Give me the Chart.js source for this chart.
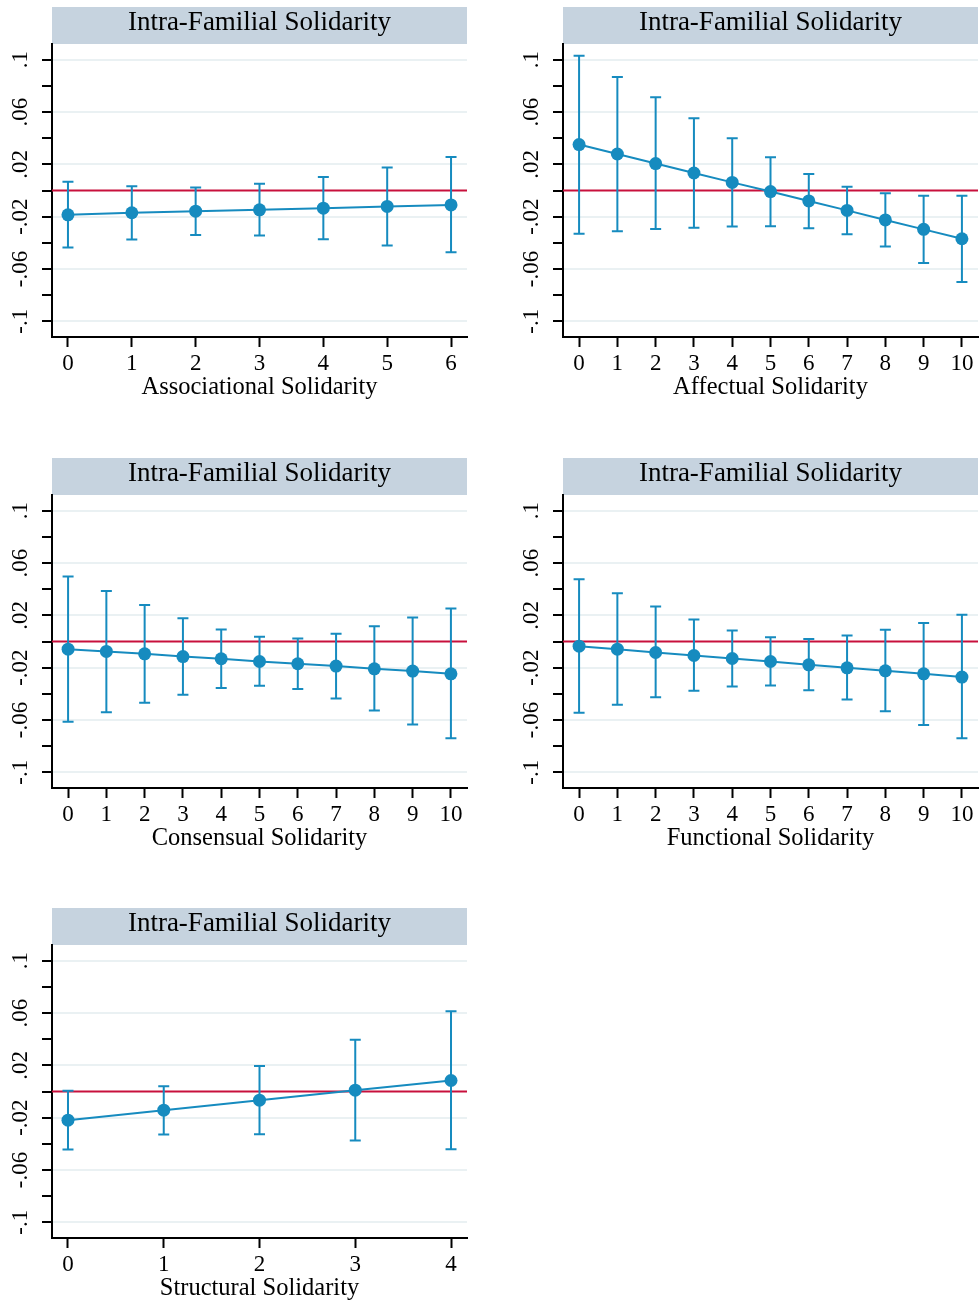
<!DOCTYPE html>
<html>
<head>
<meta charset="utf-8">
<script src="https://cdn.jsdelivr.net/npm/chart.js@4.4.1/dist/chart.umd.min.js"></script>
<style>
  html, body { margin: 0; padding: 0; background: #fff; }
  body { position: relative; width: 979px; height: 1306px; overflow: hidden; }
  canvas { position: absolute; }
</style>
</head>
<body>
<canvas id="assoc" width="468" height="410" style="left:0;top:0"></canvas>
<canvas id="affect" width="468" height="410" style="left:511px;top:0"></canvas>
<canvas id="consens" width="468" height="410" style="left:0;top:451px"></canvas>
<canvas id="funct" width="468" height="410" style="left:511px;top:451px"></canvas>
<canvas id="struct" width="468" height="410" style="left:0;top:901px"></canvas>
<script>
// y axis ticks (labels only on every other tick, like the Stata graph)
const yTickValues = [-0.1, -0.08, -0.06, -0.04, -0.02, 0, 0.02, 0.04, 0.06, 0.08, 0.1];
const yTickLabels = ["-.1", "", "-.06", "", "-.02", "", ".02", "", ".06", "", ".1"];

const assocLevels = [0, 1, 2, 3, 4, 5, 6];
const assocEst = [-0.0186, -0.0170, -0.0158, -0.0148, -0.0135, -0.0122, -0.0110];
const assocLo = [-0.0435, -0.0374, -0.0341, -0.0344, -0.0372, -0.0420, -0.0473];
const assocHi = [0.0066, 0.0033, 0.0023, 0.0051, 0.0104, 0.0176, 0.0257];

const affectLevels = [0, 1, 2, 3, 4, 5, 6, 7, 8, 9, 10];
const affectEst = [0.0351, 0.0279, 0.0206, 0.0134, 0.0062, -0.0008, -0.0080, -0.0152, -0.0225, -0.0297, -0.0369];
const affectLo = [-0.0330, -0.0312, -0.0294, -0.0284, -0.0276, -0.0274, -0.0289, -0.0335, -0.0428, -0.0555, -0.0700];
const affectHi = [0.1030, 0.0867, 0.0712, 0.0552, 0.0400, 0.0255, 0.0126, 0.0028, -0.0021, -0.0041, -0.0041];

const consensLevels = [0, 1, 2, 3, 4, 5, 6, 7, 8, 9, 10];
const consensEst = [-0.0059, -0.0076, -0.0094, -0.0115, -0.0132, -0.0153, -0.0170, -0.0188, -0.0209, -0.0226, -0.0247];
const consensLo = [-0.0613, -0.0540, -0.0468, -0.0407, -0.0356, -0.0338, -0.0364, -0.0435, -0.0527, -0.0634, -0.0740];
const consensHi = [0.0496, 0.0387, 0.0280, 0.0178, 0.0092, 0.0036, 0.0023, 0.0059, 0.0117, 0.0183, 0.0252];

const functLevels = [0, 1, 2, 3, 4, 5, 6, 7, 8, 9, 10];
const functEst = [-0.0036, -0.0059, -0.0084, -0.0107, -0.0130, -0.0153, -0.0178, -0.0201, -0.0224, -0.0247, -0.0272];
const functLo = [-0.0545, -0.0483, -0.0427, -0.0377, -0.0344, -0.0336, -0.0372, -0.0443, -0.0534, -0.0639, -0.0740];
const functHi = [0.0476, 0.0369, 0.0267, 0.0168, 0.0084, 0.0033, 0.0020, 0.0046, 0.0089, 0.0142, 0.0204];

const structLevels = [0, 1, 2, 3, 4];
const structEst = [-0.0219, -0.0143, -0.0066, 0.0010, 0.0084];
const structLo = [-0.0443, -0.0329, -0.0326, -0.0375, -0.0441];
const structHi = [0.0005, 0.0041, 0.0194, 0.0395, 0.0614];

const blue = "#168bbf";
const red = "#c8103c";
const band = "#c6d3df";
const gridColor = "#eaf1f3";
const serif = "'Liberation Serif', 'Times New Roman', serif";

// band behind the title, zero line, and CI bars
function decor(levels, lo, hi) {
  return {
    id: "decor",
    beforeDraw(chart) {
      const { ctx, chartArea } = chart;
      const tb = chart.titleBlock;
      ctx.save();
      ctx.fillStyle = band;
      ctx.fillRect(chartArea.left, tb.top, chartArea.right - chartArea.left, chartArea.top - tb.top);
      ctx.restore();
    },
    beforeDatasetsDraw(chart) {
      const { ctx, chartArea } = chart;
      const xs = chart.scales.x;
      const ys = chart.scales.y;
      ctx.save();
      ctx.strokeStyle = red;
      ctx.lineWidth = 2;
      const y0 = ys.getPixelForValue(0);
      ctx.beginPath();
      ctx.moveTo(chartArea.left, y0);
      ctx.lineTo(chartArea.right, y0);
      ctx.stroke();

      ctx.strokeStyle = blue;
      ctx.lineWidth = 2;
      levels.forEach((lv, i) => {
        const px = xs.getPixelForValue(lv);
        const yl = ys.getPixelForValue(lo[i]);
        const yh = ys.getPixelForValue(hi[i]);
        ctx.beginPath();
        ctx.moveTo(px, yl);
        ctx.lineTo(px, yh);
        ctx.moveTo(px - 5.5, yl);
        ctx.lineTo(px + 5.5, yl);
        ctx.moveTo(px - 5.5, yh);
        ctx.lineTo(px + 5.5, yh);
        ctx.stroke();
      });
      ctx.restore();
    },
  };
}

function drawPanel(id, xTitle, levels, est, lo, hi, xMin, xMax) {
  const ctx = document.getElementById(id).getContext("2d");
  return new Chart(ctx, {
    type: "line",
    data: {
      datasets: [
        {
          data: levels.map((x, i) => ({ x: x, y: est[i] })),
          borderColor: blue,
          backgroundColor: blue,
          borderWidth: 2,
          pointRadius: 6.5,
          pointBorderWidth: 0,
          pointBackgroundColor: blue,
          tension: 0,
        },
      ],
    },
    options: {
      responsive: false,
      animation: false,
      layout: { autoPadding: false, padding: { top: 7, right: 1, left: 0, bottom: 0 } },
      plugins: {
        legend: { display: false },
        tooltip: { enabled: false },
        title: {
          display: true,
          text: "Intra-Familial Solidarity",
          fullSize: false,
          color: "#000",
          font: { family: serif, size: 27, weight: "normal", lineHeight: 1 },
          padding: { top: 2, bottom: 8 },
        },
      },
      scales: {
        x: {
          type: "linear",
          min: xMin,
          max: xMax,
          afterBuildTicks: (s) => {
            s.ticks = levels.map((v) => ({ value: v }));
          },
          afterFit: (s) => {
            s.height = 73;
            s.paddingLeft = 0;
            s.paddingRight = 0;
          },
          ticks: {
            color: "#000",
            font: { family: serif, size: 23 },
            padding: 3,
            maxRotation: 0,
            autoSkip: false,
            callback: (v) => String(v),
          },
          grid: { drawOnChartArea: false, tickLength: 10, tickColor: "#000", tickWidth: 2 },
          border: { color: "#000", width: 2 },
          title: {
            display: true,
            text: xTitle,
            color: "#000",
            font: { family: serif, size: 24.5 },
            padding: { top: 0, bottom: 8 },
          },
        },
        y: {
          min: -0.112,
          max: 0.112,
          afterBuildTicks: (s) => {
            s.ticks = yTickValues.map((v) => ({ value: v }));
          },
          afterFit: (s) => {
            s.width = 52;
            s.paddingTop = 0;
            s.paddingBottom = 0;
          },
          ticks: {
            color: "#000",
            font: { family: serif, size: 23 },
            padding: 3,
            minRotation: 90,
            maxRotation: 90,
            crossAlign: "center",
            autoSkip: false,
            callback: (v, i) => yTickLabels[i],
          },
          grid: {
            color: (c) => (c.index % 2 === 0 ? gridColor : "rgba(0,0,0,0)"),
            lineWidth: 2,
            tickLength: 10,
            tickColor: "#000",
            tickWidth: 2,
          },
          border: { color: "#000", width: 2 },
        },
      },
    },
    plugins: [decor(levels, lo, hi)],
  });
}

drawPanel("assoc", "Associational Solidarity", assocLevels, assocEst, assocLo, assocHi, -0.25, 6.25);
drawPanel("affect", "Affectual Solidarity", affectLevels, affectEst, affectLo, affectHi, -0.42, 10.42);
drawPanel("consens", "Consensual Solidarity", consensLevels, consensEst, consensLo, consensHi, -0.42, 10.42);
drawPanel("funct", "Functional Solidarity", functLevels, functEst, functLo, functHi, -0.42, 10.42);
drawPanel("struct", "Structural Solidarity", structLevels, structEst, structLo, structHi, -0.167, 4.167);
</script>
</body>
</html>
